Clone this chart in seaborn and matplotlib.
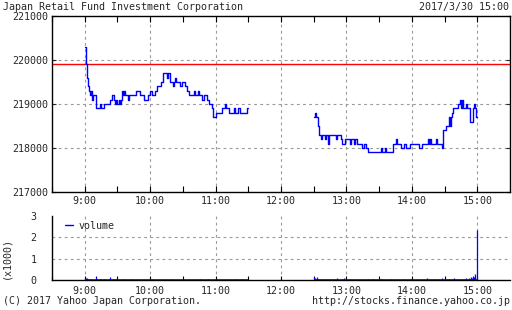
import numpy as np
import pandas as pd
import matplotlib
matplotlib.use("Agg")
import matplotlib.pyplot as plt
import seaborn as sns
from matplotlib.lines import Line2D

# ---------------- data ----------------
title = "Japan Retail Fund Investment Corporation"
stamp = "2017/3/30 15:00"
footer_left = "(C) 2017 Yahoo Japan Corporation."
footer_right = "http://stocks.finance.yahoo.co.jp"

sessions = ["9:00", "11:30", "12:30", "15:00"]
x_range = ["8:30", "15:30"]
hour_labels = ["9:00", "10:00", "11:00", "12:00", "13:00", "14:00", "15:00"]
prev_close = 219900

# morning session: minutes after 9:00 where price changes, and price
am_min = [0, 1, 2, 3, 4, 5, 6, 7, 8, 10, 14, 15, 18, 23, 25, 27, 28, 29, 30, 31,
          32, 33, 34, 35, 36, 37, 40, 41, 47, 51, 54, 58, 60, 62, 64, 66, 70, 72,
          75, 76, 78, 81, 82, 83, 84, 87, 89, 92, 94, 96, 100, 101, 104, 105,
          108, 109, 112, 114, 117, 118, 120, 126, 129, 130, 132, 137, 138, 141,
          142, 149, 150]
am_price = [220300, 219900, 219600, 219400, 219300, 219200, 219300, 219100, 219200,
            218900, 219000, 218900, 219000, 219100, 219200, 219100, 219000, 219100,
            219000, 219100, 219000, 219100, 219300, 219200, 219300, 219200, 219100,
            219200, 219300, 219200, 219100, 219200, 219300, 219200, 219300, 219400,
            219500, 219700, 219600, 219700, 219500, 219400, 219500, 219600, 219500,
            219400, 219500, 219400, 219300, 219200, 219300, 219200, 219300, 219200,
            219100, 219200, 219100, 219000, 218900, 218700, 218800, 218900, 219000,
            218900, 218800, 218900, 218800, 218900, 218800, 218900, 218900]

# afternoon session: minutes after 12:30
pm_min = [0, 1, 2, 4, 5, 7, 8, 10, 11, 13, 14, 20, 21, 25, 26, 29, 33, 34, 37, 38,
          40, 44, 46, 48, 50, 62, 63, 65, 66, 73, 75, 76, 80, 83, 85, 88, 97, 99,
          105, 106, 107, 108, 112, 113, 118, 119, 121, 124, 125, 126, 127, 128,
          132, 134, 135, 136, 137, 140, 141, 143, 146, 147, 148, 149, 150]
pm_price = [218700, 218800, 218700, 218500, 218300, 218200, 218300, 218200, 218300,
            218100, 218300, 218200, 218300, 218200, 218100, 218200, 218100, 218200,
            218100, 218200, 218100, 218000, 218100, 218000, 217900, 218000, 217900,
            218000, 217900, 218100, 218200, 218100, 218000, 218100, 218000, 218100,
            218000, 218100, 218200, 218100, 218200, 218100, 218200, 218100, 218000,
            218400, 218500, 218700, 218500, 218700, 218800, 218900, 219000, 219100,
            218900, 219100, 218900, 219000, 218900, 218600, 218900, 219000, 218900,
            218700, 218700]

# volume (x1000 shares)
vol_am_min = [0, 1, 2, 4, 6, 10, 11, 14, 15, 18, 23, 27, 30, 35, 42, 55, 62, 70,
              80, 90, 99, 106, 113, 121, 130, 138, 144]
vol_am_k = [0.15, 0.08, 0.08, 0.07, 0.06, 0.18, 0.07, 0.05, 0.06, 0.04, 0.12, 0.05,
            0.04, 0.03, 0.03, 0.02, 0.03, 0.02, 0.03, 0.03, 0.02, 0.03, 0.03, 0.03,
            0.02, 0.03, 0.03]
vol_pm_min = [0, 1, 3, 4, 7, 10, 15, 19, 21, 26, 28, 33, 37, 50, 54, 62, 63, 71, 82,
              89, 104, 107, 110, 112, 115, 118, 121, 124, 127, 129, 132, 135, 138,
              140, 142, 143, 144, 145, 146, 147, 148, 150]
vol_pm_k = [0.16, 0.08, 0.12, 0.06, 0.05, 0.04, 0.06, 0.05, 0.08, 0.05, 0.08, 0.04,
            0.03, 0.06, 0.05, 0.06, 0.04, 0.03, 0.04, 0.03, 0.10, 0.05, 0.04, 0.07,
            0.05, 0.08, 0.06, 0.06, 0.05, 0.08, 0.05, 0.06, 0.05, 0.08, 0.10, 0.06,
            0.15, 0.08, 0.20, 0.12, 0.30, 2.34]

price_ticks = [217000, 218000, 219000, 220000, 221000]
vol_ticks = [0, 1, 2, 3]


def tm(s):
    h, m = s.split(":")
    return int(h) * 60 + int(m)


am0, am1, pm0, pm1 = [tm(s) for s in sessions]
xmin, xmax = [tm(s) for s in x_range]
hour_pos = [tm(s) for s in hour_labels]
half_pos = [p + 30 for p in hour_pos[:-1]] + [hour_pos[0] - 30]

df = pd.concat([
    pd.DataFrame({"t": [am0 + m for m in am_min], "price": am_price, "session": "am"}),
    pd.DataFrame({"t": [pm0 + m for m in pm_min], "price": pm_price, "session": "pm"}),
], ignore_index=True)

vdf = pd.concat([
    pd.DataFrame({"t": [am0 + m for m in vol_am_min], "vol": vol_am_k}),
    pd.DataFrame({"t": [pm0 + m for m in vol_pm_min], "vol": vol_pm_k}),
], ignore_index=True)

# ---------------- style ----------------
sns.set_theme(style="white")
plt.rcParams["font.family"] = ["DejaVu Sans Mono"]
FS = 7.2
BLUE = "#0000ff"
GRID = dict(color="#999999", lw=0.8, ls=(0, (2.5, 3)))

W, H = 512, 310
fig = plt.figure(figsize=(W / 100, H / 100), dpi=100)
fig.patch.set_facecolor("white")

ax1 = fig.add_axes([52 / W, 1 - 192 / H, 458 / W, 176 / H])
ax2 = fig.add_axes([52 / W, 1 - 280 / H, 458 / W, 64 / H])

# ---- price panel ----
for p in price_ticks[1:-1]:
    ax1.axhline(p, **GRID, zorder=0)
for p in hour_pos:
    ax1.axvline(p, **GRID, zorder=0)
ax1.axhline(prev_close, color="#ff0000", lw=1.0, zorder=2)
sns.lineplot(data=df, x="t", y="price", units="session", estimator=None,
             drawstyle="steps-post", color=BLUE, lw=1.0, ax=ax1, zorder=3)
ax1.set_xlim(xmin, xmax)
ax1.set_ylim(price_ticks[0], price_ticks[-1])
ax1.set_yticks(price_ticks)
ax1.set_yticklabels([str(p) for p in price_ticks])
ax1.set_xticks(hour_pos)
ax1.set_xticklabels(hour_labels)
ax1.set_xticks(half_pos, minor=True)
ax1.set_xlabel("")
ax1.set_ylabel("")
ax1.tick_params(axis="x", which="both", direction="in", length=4.5, width=0.8,
                top=True, bottom=True, labelsize=FS, pad=3, color="black")
ax1.tick_params(axis="y", which="both", direction="in", length=3, width=0.8,
                left=True, right=True, labelsize=FS, pad=3)
for s in ax1.spines.values():
    s.set_color("black")
    s.set_linewidth(1.0)

# ---- volume panel ----
for v in vol_ticks[1:-1]:
    ax2.axhline(v, **GRID, zorder=0)
for p in hour_pos:
    ax2.axvline(p, **GRID, zorder=0)
for a, b in [(am0, am1), (pm0, pm1)]:
    ax2.hlines(0, a, b, color=BLUE, lw=1.2, zorder=3)
ax2.vlines(vdf["t"], 0, vdf["vol"], color=BLUE, lw=0.9, zorder=3)
ax2.set_xlim(xmin, xmax)
ax2.set_ylim(vol_ticks[0], vol_ticks[-1])
ax2.set_yticks(vol_ticks)
ax2.set_yticklabels([str(v) for v in vol_ticks])
ax2.set_xticks(hour_pos)
ax2.set_xticklabels(hour_labels)
ax2.set_xticks(half_pos, minor=True)
ax2.tick_params(axis="x", which="both", direction="in", length=3, width=0.8,
                bottom=True, labelsize=FS, pad=4, color="black")
ax2.tick_params(axis="y", left=False, labelsize=FS, pad=5)
for k in ["top", "right"]:
    ax2.spines[k].set_visible(False)
for k in ["left", "bottom"]:
    ax2.spines[k].set_color("black")
    ax2.spines[k].set_linewidth(1.0)
leg = ax2.legend(handles=[Line2D([], [], color=BLUE, lw=1.0)], labels=["volume"],
                 loc="upper left", frameon=False, fontsize=FS, handlelength=0.8,
                 handletextpad=0.6, borderaxespad=0.2, bbox_to_anchor=(0.015, 1.02))

# ---- texts ----
fig.text(3 / W, 1 - 10 / H, title, fontsize=FS, ha="left", va="baseline")
fig.text(509 / W, 1 - 10 / H, stamp, fontsize=FS, ha="right", va="baseline")
fig.text(3 / W, 1 - 304 / H, footer_left, fontsize=FS, ha="left", va="baseline")
fig.text(510 / W, 1 - 304 / H, footer_right, fontsize=FS, ha="right", va="baseline")
fig.text(6 / W, 1 - 258 / H, "(x1000)", fontsize=FS, rotation=90, ha="center", va="center")

fig.savefig("out.png", dpi=100)
